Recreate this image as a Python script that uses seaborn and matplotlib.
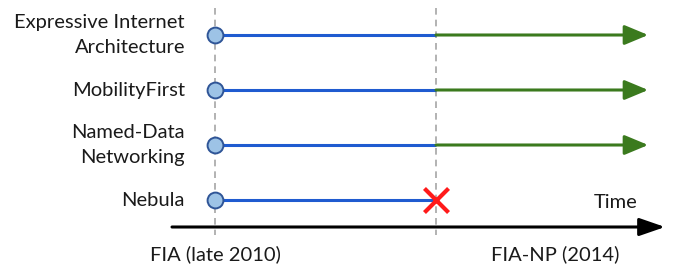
import matplotlib
matplotlib.use("Agg")
import matplotlib.pyplot as plt
import seaborn as sns
import pandas as pd

# ---- data ----
projects = ["Expressive Internet\nArchitecture", "MobilityFirst",
            "Named-Data\nNetworking", "Nebula"]
start_phase = [0, 0, 0, 0]          # all start at FIA
continued = [True, True, True, False]  # funded in FIA-NP
milestone_labels = ["FIA (late 2010)", "FIA-NP (2014)"]
milestone_pos = [0, 1]
future_end = 1.96
time_label = "Time"

sns.set_theme(style="white")
plt.rcParams['font.family'] = ['Lato', 'DejaVu Sans']

W, H = 675, 268
fig = plt.figure(figsize=(W / 100, H / 100), dpi=100)
ax = fig.add_axes([0, 0, 1, 1])

x0px, x1px = 215, 436
sx = x1px - x0px
y0px, dy = 35, 55

blue = "#1f5bd0"
green = "#3b7a1e"
rows = list(range(len(projects)))
df = pd.DataFrame({"project": projects, "row": rows, "start": start_phase,
                   "continued": continued})

# vertical dashed milestone lines
for m in milestone_pos:
    ax.plot([m, m], [-27 / dy, 200 / dy], color="#a6a6a6", lw=1.2,
            ls=(0, (4, 3)), zorder=1)

# project lines
for _, r in df.iterrows():
    ax.plot([r.start, milestone_pos[1]], [r.row, r.row], color=blue, lw=2.2,
            zorder=2, solid_capstyle="butt")
    if r.continued:
        ax.annotate("", xy=(future_end, r.row), xytext=(milestone_pos[1], r.row),
                    arrowprops=dict(arrowstyle="-|>,head_length=1.2,head_width=0.5",
                                    color=green, lw=2.2, shrinkA=0, shrinkB=0),
                    zorder=2)
    else:
        ax.scatter([milestone_pos[1]], [r.row], marker="x", s=300,
                   color="#ff1a1a", linewidths=3, zorder=4)

# start markers
sns.scatterplot(data=df, x="start", y="row", ax=ax, s=130, color="#9dc3e6",
                edgecolor="#2f5597", linewidth=1.4, zorder=5, legend=False)
ax.set_xlim(-x0px / sx, (W - x0px) / sx)
ax.set_ylim((H - y0px) / dy, -y0px / dy)
ax.axis("off")

FS = 14.5
# project labels
for i, p in enumerate(projects):
    ax.text(-30 / sx, i, p, ha="right", va="center", fontsize=FS,
            color="#1a1a1a", linespacing=1.55)

# time axis
ay = 192 / dy
ax.annotate("", xy=(450 / sx, ay), xytext=(-43 / sx, ay),
            arrowprops=dict(arrowstyle="-|>,head_length=1.3,head_width=0.45",
                            color="black", lw=2.2, shrinkA=0, shrinkB=0))
ax.text(423 / sx, 168 / dy, time_label, ha="right", va="center", fontsize=FS,
        color="#1a1a1a")

# milestone labels
label_x = [0, 340 / sx]
for lx, lab in zip(label_x, milestone_labels):
    ax.text(lx, 219 / dy, lab, ha="center", va="center", fontsize=FS,
            color="#1a1a1a")

fig.savefig("out.png", dpi=100)
